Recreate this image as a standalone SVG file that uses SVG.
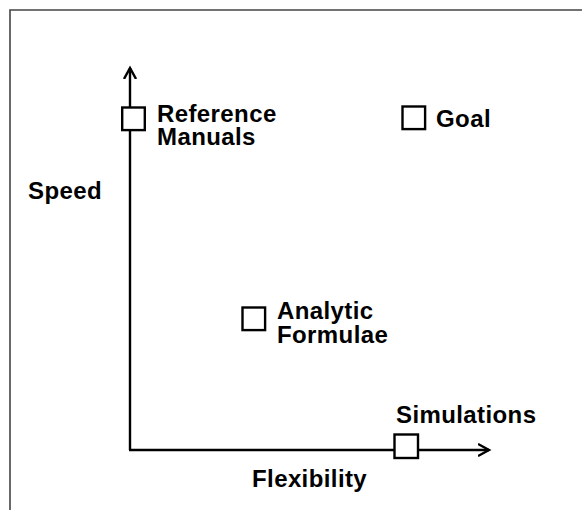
<svg xmlns="http://www.w3.org/2000/svg" width="582" height="510" viewBox="0 0 582 510">
<style>
.t{font-family:"Liberation Sans",Arial,sans-serif;font-weight:bold;font-size:24px;letter-spacing:0.4px;fill:#000}
.box{fill:#fff;stroke:#000;stroke-width:2.4}
.ax{fill:none;stroke:#000;stroke-width:2.4}
</style>
<defs>
<marker id="arr" markerWidth="14" markerHeight="14" refX="11" refY="6" orient="auto" markerUnits="userSpaceOnUse" viewBox="0 0 14 12">
<path d="M0,0 L11,6 L0,12" fill="none" stroke="#000" stroke-width="2.4"/>
</marker>
</defs>
<rect width="582" height="510" fill="#fff"/>
<path d="M10,510 V10 H582" fill="none" stroke="#444" stroke-width="1.6"/>
<g id="connectors">
<path class="ax" d="M130,450 V68" marker-end="url(#arr)"/>
<path class="ax" d="M129,450 H489" marker-end="url(#arr)"/>
</g>
<g id="speed"><text class="t" x="28" y="199">Speed</text></g>
<g id="flexibility"><text class="t" x="252" y="487">Flexibility</text></g>
<g id="reference-manuals">
<rect class="box" x="122.2" y="107.5" width="22.6" height="22.6"/>
<text class="t" x="157" y="121.5">Reference</text>
<text class="t" x="157" y="145">Manuals</text>
</g>
<g id="goal">
<rect class="box" x="402.5" y="106.5" width="22.6" height="22.6"/>
<text class="t" x="436" y="127">Goal</text>
</g>
<g id="analytic-formulae">
<rect class="box" x="242.5" y="307.5" width="22.6" height="22.6"/>
<text class="t" x="277" y="319">Analytic</text>
<text class="t" x="277" y="342.5">Formulae</text>
</g>
<g id="simulations">
<rect class="box" x="394.5" y="434.5" width="23.5" height="23.5"/>
<text class="t" x="396" y="423">Simulations</text>
</g>
</svg>
